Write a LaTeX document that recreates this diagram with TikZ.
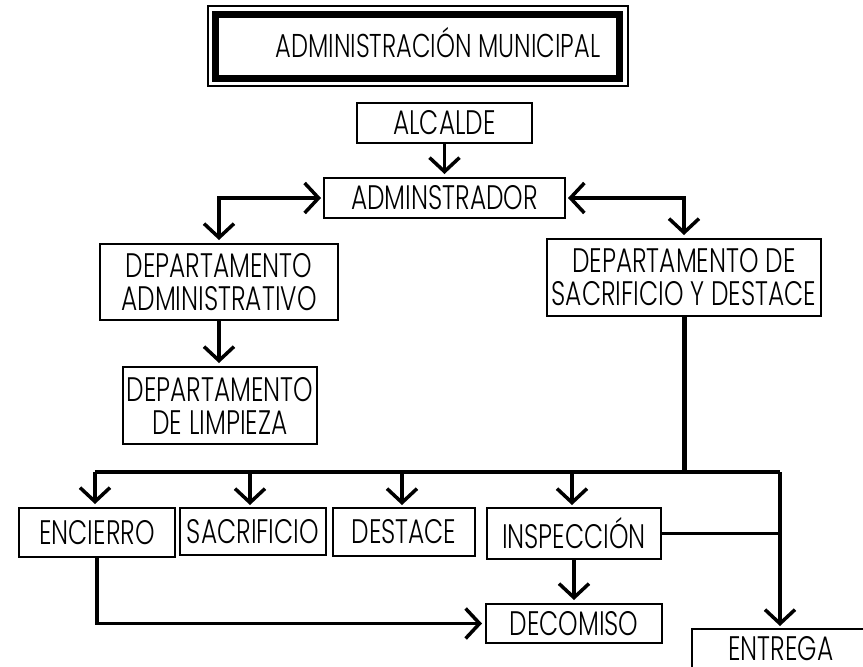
\documentclass[tikz,border=0pt]{standalone}
\usepackage{fontspec}
\setmainfont{Poppins}[UprightFont={* Light},FakeStretch=0.73]
\usetikzlibrary{arrows.meta}
\tikzset{
  box/.style={draw,line width=2pt,inner sep=0pt,align=center,font=\fontsize{34}{33}\selectfont},
  arr/.style={line width=3.5pt,-{Straight Barb[length=14pt,width=30pt]},shorten >=3pt},
  barr/.style={line width=3.5pt,{Straight Barb[length=14pt,width=30pt]}-{Straight Barb[length=14pt,width=30pt]},shorten >=3pt,shorten <=2pt},
  plain/.style={line width=3.5pt},
  thick bus/.style={line width=5pt}
}
\begin{document}
\begin{tikzpicture}[x=1pt,y=-1pt]
\useasboundingbox (0,0) rectangle (863,667);
% title
\draw[line width=2pt] (207.5,5.5) rectangle (627.5,86);
\draw[line width=7pt] (215.5,14.5) rectangle (619.5,78);
\node[font=\fontsize{33}{36}\selectfont] (title) at (438,43) {ADMINISTRACIÓN MUNICIPAL};
% boxes
\node[box,minimum width=175pt,minimum height=40pt] (alc) at (444.5,123) {ALCALDE};
\node[box,minimum width=241pt,minimum height=40pt] (adm) at (444.5,198) {ADMINSTRADOR};
\node[box,minimum width=238pt,minimum height=76pt] (dadm) at (219,282) {DEPARTAMENTO\\ADMINISTRATIVO};
\node[box,minimum width=194pt,minimum height=77pt] (dlim) at (220,405.5) {DEPARTAMENTO\\DE LIMPIEZA};
\node[box,minimum width=274pt,minimum height=77pt] (dsac) at (684,277.5) {DEPARTAMENTO DE\\SACRIFICIO Y DESTACE};
\node[box,minimum width=156pt,minimum height=49pt] (enc) at (97,532.5) {ENCIERRO};
\node[box,minimum width=146pt,minimum height=47pt] (sac) at (253,531.5) {SACRIFICIO};
\node[box,minimum width=142pt,minimum height=48pt] (des) at (404,532) {DESTACE};
\node[box,minimum width=174pt,minimum height=51pt] (ins) at (574,533.5) {INSPECCIÓN};
\node[box,minimum width=176pt,minimum height=39pt] (dec) at (574,623.5) {DECOMISO};
% ENTREGA box (cut by the picture's lower and right edges)
\coordinate (entTop) at (781,629);
\draw[line width=2pt] (692,680) |- (880,629);
\node[font=\fontsize{34}{33}\selectfont,inner sep=0pt] (ent) at (781,649) {ENTREGA};
% connectors
\draw[arr] (alc.south) -- (alc.south |- adm.north);
\draw[barr] (adm.west) -| (dadm.north);
\draw[barr] (adm.east) -| (dsac.north);
\draw[arr] (dadm.south) -- (dadm.south |- dlim.north);
\coordinate (bL) at (95,472);
\coordinate (bM) at (684,472);
\coordinate (bR) at (780,472);
\draw[thick bus] (dsac.south) -- (bM);
\draw[line width=4pt] (bL) -- (bM);
\draw[plain] (bM) -- (bR);
\draw[arr] (bL) -- (bL |- enc.north);
\draw[arr] (250,472) -- (250,508);
\draw[arr] (402,472) -- (402,508);
\draw[arr] (572,472) -- (572,508);
\draw[arr] (bR) -- (bR |- entTop);
\draw[plain] (ins.east) -- (ins.east -| bR);
\draw[arr] (ins.south) -- (dec.north);
\draw[arr] (enc.south) |- (dec.west);
\end{tikzpicture}
\end{document}
